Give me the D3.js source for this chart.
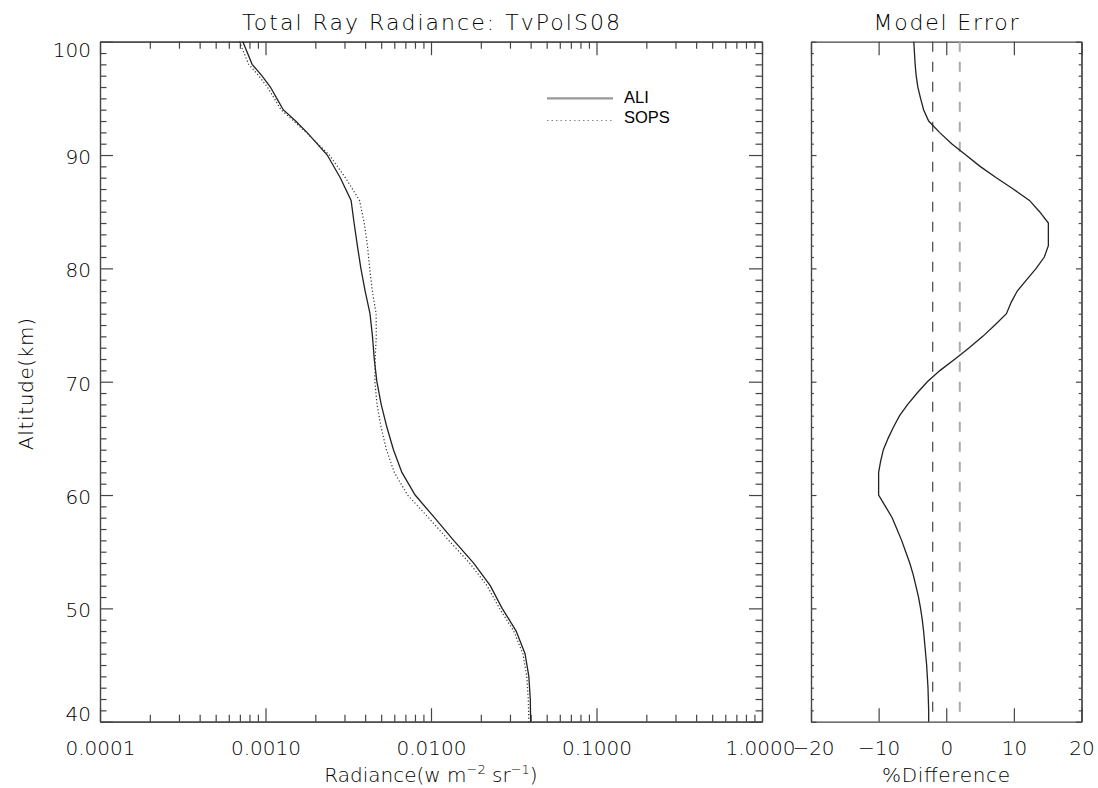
<!DOCTYPE html>
<html>
<head>
<meta charset="utf-8">
<script src="https://cdn.jsdelivr.net/npm/d3@7"></script>
<style>
    body { margin: 0; background: #fff; }
    svg text { font-family: "DejaVu Sans", sans-serif; font-weight: 200; fill: #000; }
</style>
</head>
<body>
<script>
// profile altitudes (km) shared by ALI and SOPS
const altitude = [100, 98, 97, 96, 95, 94, 93, 92, 90, 88, 86, 84, 82, 80, 78, 76, 74, 72, 70,
    68, 66, 64, 62, 60, 58, 56, 54, 52, 50, 48, 46, 44, 42, 40]

const aliRadiance = [0.00073, 0.00083, 0.00095, 0.00107, 0.00117, 0.00128, 0.00152, 0.00178,
    0.00236, 0.00283, 0.00329, 0.00343, 0.00359, 0.00377, 0.00400, 0.00428, 0.00443,
    0.00454, 0.00471, 0.00500, 0.00541, 0.00593, 0.00667, 0.00802, 0.0105, 0.0137,
    0.0181, 0.0228, 0.0269, 0.0327, 0.0370, 0.0390, 0.0398, 0.0400]

const sopsRadiance = [0.000695, 0.000792, 0.00091, 0.001025, 0.00113, 0.00124, 0.00148,
    0.00176, 0.00243, 0.00304, 0.00370, 0.00395, 0.00413, 0.00426, 0.00442, 0.00466,
    0.00467, 0.00460, 0.00458, 0.00472, 0.00499, 0.00538, 0.00600, 0.00722, 0.00966,
    0.0128, 0.0171, 0.0218, 0.0259, 0.0316, 0.0359, 0.0379, 0.0387, 0.0390]

const errAltitude = [100, 99, 98, 97, 96, 95, 94, 93, 92, 91, 90, 89, 88, 87, 86, 85,
    84, 83, 82, 81, 80, 79, 78, 77, 76, 75, 74, 73, 72, 71, 70, 69, 68, 67, 66, 65,
    64, 63, 62, 61, 60, 59, 58, 57, 56, 55, 54, 53, 52, 51, 50, 49, 48, 47, 46, 45,
    44, 43, 42, 41, 40]

const modelError = [-4.8, -4.7, -4.6, -4.45, -4.2, -3.8, -3.35, -2.6, -1.0, 0.8, 2.9,
    5.0, 7.4, 9.9, 12.3, 13.8, 15.1, 15.1, 15.1, 14.5, 13.3, 11.9, 10.5, 9.6, 8.9,
    7.2, 5.4, 3.4, 1.3, -0.9, -2.8, -4.3, -5.7, -6.9, -7.8, -8.6, -9.3, -9.7, -10.0,
    -10.0, -10.0, -9.0, -8.0, -7.3, -6.6, -6.0, -5.4, -4.9, -4.5, -4.1, -3.8, -3.55,
    -3.35, -3.2, -3.05, -2.9, -2.8, -2.7, -2.65, -2.6, -2.6]

const errorBands = [-2, 2]

const radianceTicks = [0.0001, 0.001, 0.01, 0.1, 1]
const altitudeTicks = [40, 50, 60, 70, 80, 90, 100]
const errorTicks = [-20, -10, 0, 10, 20]

const WIDTH = 1098
const HEIGHT = 788

const TOP = 41.7
const BOTTOM = 721.7

const svg = d3
    .select("body")
    .append("svg")
    .attr("width", WIDTH)
    .attr("height", HEIGHT)

const x = d3.scaleLog().domain([0.0001, 1]).range([100, 762])
const xErr = d3.scaleLinear().domain([-20, 20]).range([811, 1081.5])
const y = d3.scaleLinear().domain([40, 100]).range([BOTTOM, TOP])

// minor ticks
const logMinor = []
radianceTicks.slice(0, -1).forEach(d => {
    for (let k = 2; k < 10; k++) logMinor.push(d * k)
})
const altMinor = []
for (let a = 41; a < 100; a++) if (a % 10 !== 0) altMinor.push(a)

function styleAxis(g) {
    g.attr("font-family", "DejaVu Sans, sans-serif")
        .attr("font-size", 20)
        .attr("color", "#000")
    g.selectAll("line, path").attr("stroke", "#444").attr("stroke-width", 1.2)
}

function addAxis(axis, tx, ty) {
    return svg.append("g")
        .attr("transform", `translate(${tx},${ty})`)
        .call(axis)
        .call(styleAxis)
}

// ---- left panel axes
const radAx = addAxis(d3.axisBottom(x).tickValues(radianceTicks).tickSizeInner(-13.5)
    .tickSizeOuter(0).tickPadding(19).tickFormat(d3.format(".4f")), 0, BOTTOM)
// last label sits hard against the right panel's first one, as in the original
radAx.selectAll("text").attr("dx", d => d === 1 ? "-0.1em" : 0)
addAxis(d3.axisBottom(x).tickValues(logMinor).tickSizeInner(-7)
    .tickSizeOuter(0).tickFormat(""), 0, BOTTOM)
addAxis(d3.axisTop(x).tickValues(radianceTicks).tickSizeInner(-13.5)
    .tickSizeOuter(0).tickFormat(""), 0, TOP)
addAxis(d3.axisTop(x).tickValues(logMinor).tickSizeInner(-7)
    .tickSizeOuter(0).tickFormat(""), 0, TOP)

const leftAx = addAxis(d3.axisLeft(y).tickValues(altitudeTicks).tickSizeInner(-13)
    .tickSizeOuter(0).tickPadding(9).tickFormat(d3.format("d")), 100, 0)
leftAx.selectAll("text")
    .attr("dy", d => d === 100 ? "0.75em" : d === 40 ? "-0.05em" : "0.42em")
addAxis(d3.axisLeft(y).tickValues(altMinor).tickSizeInner(-6.5)
    .tickSizeOuter(0).tickFormat(""), 100, 0)
addAxis(d3.axisRight(y).tickValues(altitudeTicks).tickSizeInner(-13)
    .tickSizeOuter(0).tickFormat(""), 762, 0)
addAxis(d3.axisRight(y).tickValues(altMinor).tickSizeInner(-6.5)
    .tickSizeOuter(0).tickFormat(""), 762, 0)

// ---- right panel axes
const errAx = addAxis(d3.axisBottom(xErr).tickValues(errorTicks).tickSizeInner(-13.5)
    .tickSizeOuter(0).tickPadding(19), 0, BOTTOM)
errAx.selectAll("text").attr("dx", d => d === -20 ? "0.1em" : 0)
addAxis(d3.axisTop(xErr).tickValues(errorTicks).tickSizeInner(-13.5)
    .tickSizeOuter(0).tickFormat(""), 0, TOP)
addAxis(d3.axisLeft(y).tickValues(altitudeTicks).tickSizeInner(-5.5)
    .tickSizeOuter(0).tickFormat(""), 811, 0)
addAxis(d3.axisLeft(y).tickValues(altMinor).tickSizeInner(-2.8)
    .tickSizeOuter(0).tickFormat(""), 811, 0)
addAxis(d3.axisRight(y).tickValues(altitudeTicks).tickSizeInner(-5.5)
    .tickSizeOuter(0).tickFormat(""), 1081.5, 0)
addAxis(d3.axisRight(y).tickValues(altMinor).tickSizeInner(-2.8)
    .tickSizeOuter(0).tickFormat(""), 1081.5, 0)

// ---- curves
const profile = altitude.map((a, i) => ({ alt: a, ali: aliRadiance[i], sops: sopsRadiance[i] }))

svg.append("path")
    .datum(profile)
    .attr("fill", "none")
    .attr("stroke", "#222")
    .attr("stroke-width", 1.3)
    .attr("d", d3.line().x(d => x(d.ali)).y(d => y(d.alt)))

svg.append("path")
    .datum(profile)
    .attr("fill", "none")
    .attr("stroke", "#333")
    .attr("stroke-width", 1.2)
    .attr("stroke-dasharray", "1.2,2.2")
    .attr("d", d3.line().x(d => x(d.sops)).y(d => y(d.alt)))

const errData = errAltitude.map((a, i) => ({ alt: a, err: modelError[i] }))

svg.selectAll(".band")
    .data(errorBands)
    .enter()
    .append("line")
    .attr("x1", d => xErr(d))
    .attr("x2", d => xErr(d))
    .attr("y1", TOP)
    .attr("y2", BOTTOM)
    .attr("stroke", (d, i) => i === 0 ? "#333" : "#aaa")
    .attr("stroke-width", (d, i) => i === 0 ? 1.1 : 2)
    .attr("stroke-dasharray", "10,10")

svg.append("path")
    .datum(errData)
    .attr("fill", "none")
    .attr("stroke", "#222")
    .attr("stroke-width", 1.3)
    .attr("d", d3.line().x(d => xErr(d.err)).y(d => y(d.alt)))

// ---- legend
const legend = svg.append("g")
legend.append("line")
    .attr("x1", 547).attr("x2", 613).attr("y1", 98.3).attr("y2", 98.3)
    .attr("stroke", "#999").attr("stroke-width", 2.2)
legend.append("line")
    .attr("x1", 547).attr("x2", 613).attr("y1", 120.5).attr("y2", 120.5)
    .attr("stroke", "#888").attr("stroke-width", 1).attr("stroke-dasharray", "1.5,3")
legend.append("text")
    .attr("x", 624).attr("y", 103)
    .style("font-family", "Liberation Sans, Arial, sans-serif")
    .style("font-weight", 400)
    .attr("font-size", 16.5)
    .text("ALI")
legend.append("text")
    .attr("x", 624).attr("y", 123)
    .style("font-family", "Liberation Sans, Arial, sans-serif")
    .style("font-weight", 400)
    .attr("font-size", 16.5)
    .text("SOPS")

// ---- titles
svg.append("text")
    .attr("x", 431).attr("y", 30)
    .attr("text-anchor", "middle")
    .attr("font-size", 22)
    .attr("textLength", 378)
    .attr("lengthAdjust", "spacing")
    .text("Total Ray Radiance: TvPolS08")

svg.append("text")
    .attr("x", 946).attr("y", 30)
    .attr("text-anchor", "middle")
    .attr("font-size", 22)
    .attr("textLength", 145)
    .attr("lengthAdjust", "spacing")
    .text("Model Error")

svg.append("text")
    .attr("transform", "translate(33,384) rotate(-90)")
    .attr("text-anchor", "middle")
    .attr("font-size", 20)
    .attr("textLength", 132)
    .attr("lengthAdjust", "spacing")
    .text("Altitude(km)")

const xTitle = svg.append("text")
    .attr("x", 431).attr("y", 782)
    .attr("text-anchor", "middle")
    .attr("font-size", 20)
xTitle.append("tspan").text("Radiance(w m")
xTitle.append("tspan").attr("font-size", 13).attr("dy", -8).text("−2")
xTitle.append("tspan").attr("dy", 8).text(" sr")
xTitle.append("tspan").attr("font-size", 13).attr("dy", -8).text("−1")
xTitle.append("tspan").attr("dy", 8).text(")")

svg.append("text")
    .attr("x", 946).attr("y", 782)
    .attr("text-anchor", "middle")
    .attr("font-size", 20)
    .attr("textLength", 128)
    .attr("lengthAdjust", "spacing")
    .text("%Difference")
</script>
</body>
</html>
